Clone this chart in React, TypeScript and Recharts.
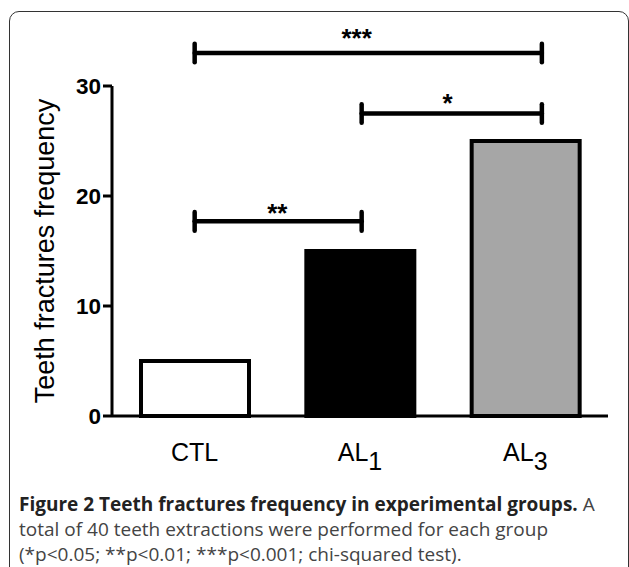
import { BarChart, Bar, Cell, XAxis, YAxis, ReferenceLine, ReferenceDot } from 'recharts';

const groups = ['CTL', 'AL1', 'AL3'];
const fractures = [5, 15, 25];
const barColors = ['#ffffff', '#000000', '#a6a6a6'];
const yTicks = [0, 10, 20, 30];
// band centres in category-index units, used by the hidden numeric axis
const groupPos = [0.5, 1.5, 2.5];

// significance brackets, x in category-index units (0..3)
const bracketFrom = [0.5, 1.51, 0.5];
const bracketTo = [2.6, 2.6, 1.51];
const bracketY = [33, 27.5, 17.7];
const bracketStars = ['***', '*', '**'];
const starX = [1.48, 2.03, 1.0];
const starY = [34.9, 29.0, 19.0];

const data = groups.map((g, i) => ({ group: g, value: fractures[i], pos: groupPos[i] }));
const CAP = 0.85;
const FONT = '"Liberation Sans", Arial, Helvetica, sans-serif';

const XTick = ({ x, payload }: any) => {
  const m = /^(\D+)(\d)$/.exec(payload.value);
  return (
    <text x={x} y={416 + 45} textAnchor="middle" fontSize={25} fontFamily={FONT} fill="#000">
      {m ? (
        <>
          {m[1]}
          <tspan dy={9}>{m[2]}</tspan>
        </>
      ) : (
        payload.value
      )}
    </text>
  );
};

const Stars = (label: string) => (p: any) => (
  <text x={p.cx} y={p.cy + 15} textAnchor="middle" fontSize={26} fontWeight="bold" fontFamily={FONT} fill="#000">
    {label}
  </text>
);

export default function App() {
  const line = { stroke: '#000', strokeWidth: 4.5, strokeLinecap: 'round' as const };
  return (
    <div style={{ position: 'absolute', left: 0, top: 0, width: 629, height: 567, overflow: 'hidden', background: '#fff' }}>
      <div
        style={{
          position: 'absolute',
          left: 9,
          top: 11,
          width: 620,
          height: 600,
          boxSizing: 'border-box',
          border: '1.5px solid #333',
          borderRadius: 10,
        }}
      />
      <div style={{ position: 'absolute', left: 0, top: 0 }}>
        <BarChart width={629} height={480} data={data} margin={{ top: 86, right: 21, bottom: 0, left: 0 }}>
          <XAxis
            xAxisId="cat"
            dataKey="group"
            height={64}
            tickLine={false}
            tickSize={0}
            axisLine={{ stroke: '#000', strokeWidth: 3 }}
            tick={<XTick />}
            interval={0}
          />
          <XAxis xAxisId="num" dataKey="pos" type="number" domain={[0, 3]} allowDataOverflow hide />
          <YAxis
            width={112}
            domain={[0, 30]}
            ticks={yTicks}
            tickSize={9}
            tickMargin={2}
            axisLine={{ stroke: '#000', strokeWidth: 3 }}
            tickLine={{ stroke: '#000', strokeWidth: 3 }}
            tick={{ fill: '#000', fontSize: 22.5, fontWeight: 'bold', fontFamily: FONT }}
            label={{
              value: 'Teeth fractures frequency',
              angle: -90,
              position: 'center',
              dx: -12,
              style: { fill: '#000', fontSize: 27, fontFamily: FONT },
            }}
          />
          <Bar xAxisId="cat" dataKey="value" barSize={108} stroke="#000" strokeWidth={4} isAnimationActive={false}>
            {data.map((d, i) => (
              <Cell key={d.group} fill={barColors[i]} />
            ))}
          </Bar>
          {bracketY.map((y, i) => [
            <ReferenceLine
              key={`h${i}`}
              xAxisId="num"
              ifOverflow="visible"
              segment={[{ x: bracketFrom[i], y }, { x: bracketTo[i], y }]}
              {...line}
            />,
            <ReferenceLine
              key={`l${i}`}
              xAxisId="num"
              ifOverflow="visible"
              segment={[{ x: bracketFrom[i], y: y - CAP }, { x: bracketFrom[i], y: y + CAP }]}
              {...line}
            />,
            <ReferenceLine
              key={`r${i}`}
              xAxisId="num"
              ifOverflow="visible"
              segment={[{ x: bracketTo[i], y: y - CAP }, { x: bracketTo[i], y: y + CAP }]}
              {...line}
            />,
            <ReferenceDot
              key={`s${i}`}
              xAxisId="num"
              x={starX[i]}
              y={starY[i]}
              r={0}
              ifOverflow="visible"
              shape={Stars(bracketStars[i])}
            />,
          ])}
        </BarChart>
      </div>
      <div
        style={{
          position: 'absolute',
          left: 19,
          top: 492,
          fontFamily: '"Open Sans", "Noto Sans", sans-serif',
          fontSize: 19,
          lineHeight: '25px',
          color: '#444',
          whiteSpace: 'nowrap',
        }}
      >
        <div>
          <span style={{ fontWeight: 'bold', color: '#222' }}>Figure 2 Teeth fractures frequency in experimental groups.</span> A
        </div>
        <div>total of 40 teeth extractions were performed for each group</div>
        <div>(*p&lt;0.05; **p&lt;0.01; ***p&lt;0.001; chi-squared test).</div>
      </div>
    </div>
  );
}
